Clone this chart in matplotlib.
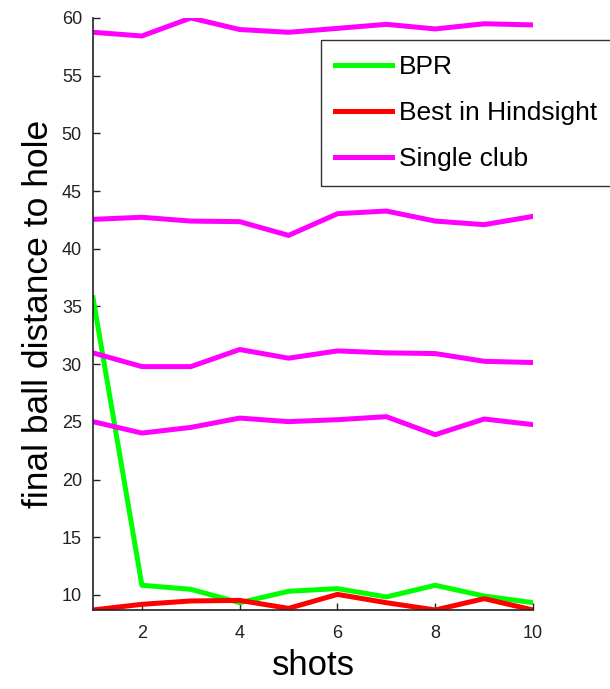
import matplotlib
matplotlib.use("Agg")
import matplotlib.pyplot as plt

plt.rcParams['font.family'] = ['Liberation Sans', 'DejaVu Sans']

shots = [1, 2, 3, 4, 5, 6, 7, 8, 9, 10]

bpr = [35.75, 10.84, 10.49, 9.33, 10.32, 10.55, 9.83, 10.84, 9.91, 9.33]
best_hindsight = [8.7, 9.19, 9.48, 9.53, 8.84, 10.05, 9.33, 8.7, 9.68, 8.7]

single_club_a = [58.76, 58.44, 60.0, 59.0, 58.76, 59.1, 59.45, 59.05, 59.5, 59.4]
single_club_b = [42.55, 42.73, 42.4, 42.35, 41.16, 43.04, 43.27, 42.4, 42.09, 42.81]
single_club_c = [30.98, 29.79, 29.79, 31.27, 30.52, 31.15, 30.98, 30.92, 30.25, 30.14]
single_club_d = [25.02, 24.03, 24.52, 25.33, 25.02, 25.19, 25.45, 23.89, 25.25, 24.76]

x_ticks = [2, 4, 6, 8, 10]
y_ticks = [10, 15, 20, 25, 30, 35, 40, 45, 50, 55, 60]

fig = plt.figure(figsize=(6.1, 6.89), dpi=100)
ax = fig.add_axes([0.1525, 0.1147, 0.7213, 0.8592])

lw = 3.6
ax.plot(shots, bpr, color='#00ff00', lw=lw, label='BPR')
ax.plot(shots, best_hindsight, color='#ff0000', lw=lw, label='Best in Hindsight')
ax.plot(shots, single_club_a, color='#ff00ff', lw=lw, label='Single club')
for series in (single_club_b, single_club_c, single_club_d):
    ax.plot(shots, series, color='#ff00ff', lw=lw)

all_vals = bpr + best_hindsight + single_club_a + single_club_b + single_club_c + single_club_d
ax.set_xlim(min(shots), max(shots))
ax.set_ylim(min(all_vals), max(all_vals))

ax.set_xticks(x_ticks)
ax.set_yticks(y_ticks)
ax.tick_params(direction='in', length=5, width=1, labelsize=13, colors='#222222')
ax.tick_params(axis='y', pad=8)
ax.tick_params(axis='x', pad=11)
ax.spines['top'].set_visible(False)
ax.spines['right'].set_visible(False)
for s in ('left', 'bottom'):
    ax.spines[s].set_linewidth(1.2)
    ax.spines[s].set_color('#222222')

ax.set_xlabel('shots', fontsize=25, labelpad=5)
ax.set_ylabel('final ball distance to hole', fontsize=25.5, labelpad=5)

leg = ax.legend(loc='upper left', bbox_to_anchor=(0.517, 0.962), fontsize=19,
                frameon=True, fancybox=False, handlelength=2.15, handletextpad=0.27,
                labelspacing=0.84, borderpad=0.55, borderaxespad=0)
leg.get_frame().set_edgecolor('black')
leg.get_frame().set_linewidth(1.0)

fig.savefig('out.png', dpi=100)
